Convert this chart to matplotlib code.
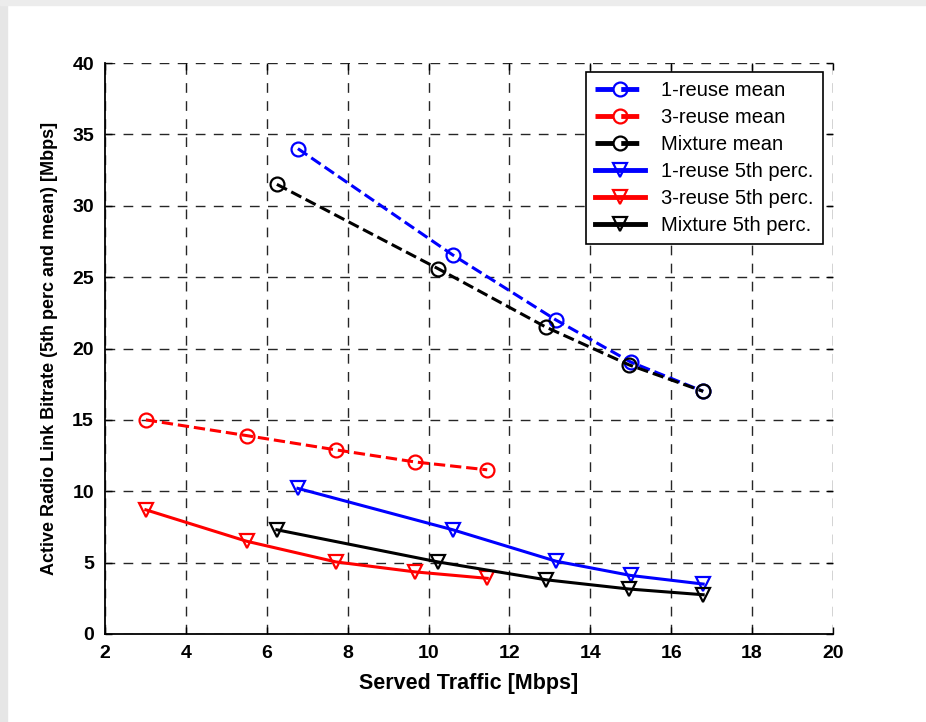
import matplotlib
matplotlib.use('Agg')
import matplotlib.pyplot as plt
from matplotlib.patches import Rectangle

# served traffic [Mbps] and bitrate [Mbps]
x_reuse1 = [6.77, 10.6, 13.15, 15.0, 16.79]
x_reuse3 = [3.01, 5.5, 7.71, 9.67, 11.45]
x_mix = [6.25, 10.23, 12.9, 14.96, 16.79]

mean_reuse1 = [34.0, 26.55, 22.0, 19.05, 17.0]
mean_reuse3 = [15.0, 13.9, 12.9, 12.05, 11.5]
mean_mix = [31.5, 25.6, 21.5, 18.85, 17.0]

p5_reuse1 = [10.2, 7.3, 5.1, 4.1, 3.5]
p5_reuse3 = [8.7, 6.5, 5.05, 4.35, 3.9]
p5_mix = [7.3, 5.05, 3.8, 3.15, 2.75]

labels = ['1-reuse mean', '3-reuse mean', 'Mixture mean',
          '1-reuse 5th perc.', '3-reuse 5th perc.', 'Mixture 5th perc.']

plt.rcParams['font.family'] = ['Liberation Sans', 'DejaVu Sans']

fig = plt.figure(figsize=(9.26, 7.22), dpi=100)
# light gray screenshot border
fig.patches.append(Rectangle((0, 0), 7 / 926, 1, transform=fig.transFigure,
                             color='#e6e6e6', zorder=0))
fig.patches.append(Rectangle((0, 1 - 5 / 722), 1, 5 / 722, transform=fig.transFigure,
                             color='#ececec', zorder=0))

ax = fig.add_axes([105 / 926, 1 - 634 / 722, 728 / 926, 571 / 722])

mk = dict(markersize=10, markerfacecolor='none', markeredgewidth=1.6)
ax.plot(x_reuse1, mean_reuse1, '--o', color='#0000ff', lw=2.2, label=labels[0], **mk)
ax.plot(x_reuse3, mean_reuse3, '--o', color='#ff0000', lw=2.2, label=labels[1], **mk)
ax.plot(x_mix, mean_mix, '--o', color='black', lw=2.2, label=labels[2], **mk)
ax.plot(x_reuse1, p5_reuse1, '-v', color='#0000ff', lw=2.2, label=labels[3], **mk)
ax.plot(x_reuse3, p5_reuse3, '-v', color='#ff0000', lw=2.2, label=labels[4], **mk)
ax.plot(x_mix, p5_mix, '-v', color='black', lw=2.2, label=labels[5], **mk)

ax.set_xlim(2, 20)
ax.set_ylim(0, 40)
ax.set_xticks(range(2, 21, 2))
ax.set_yticks(range(0, 41, 5))
ax.grid(True, color='black', linestyle=(0, (7, 6)), linewidth=1.0, alpha=0.85)
ax.spines['top'].set_visible(False)
ax.spines['right'].set_visible(False)
for s in ('left', 'bottom'):
    ax.spines[s].set_linewidth(1.3)
ax.tick_params(direction='in', top=True, right=True, length=5, width=1,
               labelsize=14, pad=8)
for t in ax.get_xticklabels() + ax.get_yticklabels():
    t.set_fontweight('bold')

ax.set_xlabel('Served Traffic [Mbps]', fontsize=15.5, fontweight='bold', labelpad=8)
ax.set_ylabel('Active Radio Link Bitrate (5th perc and mean) [Mbps]',
              fontsize=13, fontweight='bold', labelpad=10)

leg = ax.legend(loc='upper right', fontsize=14.5, frameon=True, fancybox=False,
                edgecolor='black', framealpha=1, borderpad=0.45, borderaxespad=0,
                handlelength=2.5, handletextpad=0.8, labelspacing=0.4,
                bbox_to_anchor=(1 - 10 / 728, 1 - 9 / 571))
leg.get_frame().set_linewidth(1.2)
for h in leg.get_lines():
    h.set_linewidth(3.5)

fig.savefig('out.png', dpi=100)
